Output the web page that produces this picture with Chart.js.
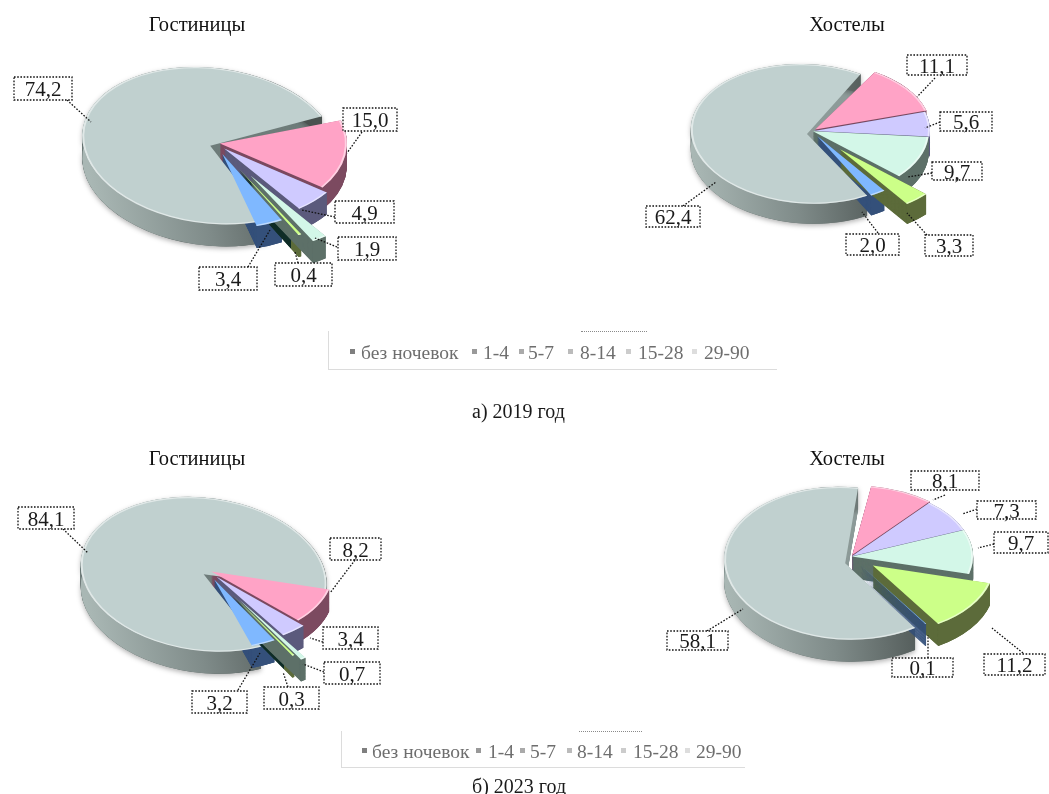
<!DOCTYPE html>
<html lang="ru">
<head>
<meta charset="utf-8">
<script src="https://cdn.jsdelivr.net/npm/chart.js@4"></script>
<style>
html,body{margin:0;padding:0;background:#fff;width:1049px;height:794px;overflow:hidden}
canvas{position:absolute;left:0;top:0;filter:blur(.35px)}
.t{position:absolute;font-family:"Liberation Serif",serif;white-space:nowrap;line-height:1;filter:blur(.3px)}
.cap{font-size:20px;color:#1a1a1a}
.leg{font-size:19.5px;color:#6e6e6e}
.m{position:absolute;width:5px;height:5px}
.fr{position:absolute;box-sizing:border-box;border-left:1.5px solid #dcdcdc;border-bottom:1.5px solid #dcdcdc}
.dot{position:absolute;border-top:1px dotted #8a8a8a;height:0}
</style>
</head>
<body>
<script>
const categories = ["без ночевок","1-4","5-7","8-14","15-28","29-90"];
const hotels2019  = [15.0,4.9,1.9,0.4,3.4,74.2];
const hostels2019 = [11.1,5.6,9.7,3.3,2.0,62.4];
const hotels2023  = [8.2,3.4,0.7,0.3,3.2,84.1];
const hostels2023 = [8.1,7.3,9.7,11.2,0.1,58.1];
const topColors  = ["#ffa3c6","#cfcaff","#d3f7e8","#ccff88","#7fb8ff","#c0d0cf"];
const wallColors = ["#7c4a60","#5b5a7c","#5d7068","#5c6b3a","#34507a",null];
const markerColors = ["#7f7f7f","#999999","#aaaaaa","#bbbbbb","#cccccc","#dddddd"];
const W = 1049, H = 794;
const BACK = 5; // the large slice, drawn first and with its own perspective

const pie3d = {
  id:'pie3d',
  beforeDatasetDraw(chart,args,o){
    const ctx = chart.ctx, arcs = chart.getDatasetMeta(0).data;
    const cx = (chart.chartArea.left+chart.chartArea.right)/2, cy=(chart.chartArea.top+chart.chartArea.bottom)/2;
    const turn = (o.backTurn||0)*Math.PI/180;
    arcs[BACK].startAngle += turn; arcs[BACK].endAngle += turn;
    const view = i => {
      const k = i===BACK ? o.backK : o.k, sh = i===BACK ? o.shear : 0, oy = i===BACK ? o.backDy : 0;
      return {k, sl:sh*k, oy};
    };
    const enter = i => { const v=view(i); ctx.translate(cx,cy+v.oy); ctx.transform(1,0,v.sl,v.k,0,0); ctx.translate(-cx,-cy); };
    const shift = i => { const m=(arcs[i].startAngle+arcs[i].endAngle)/2; return [Math.cos(m)*o.explode[i], Math.sin(m)*o.explode[i]]; };
    const order = arcs.map((a,i)=>i).sort((a,b)=>{
      const y=i=>{const m=(arcs[i].startAngle+arcs[i].endAngle)/2; return i===BACK?-1e6:Math.sin(m)*(arcs[i].outerRadius+o.explode[i]);};
      return y(a)-y(b);
    });
    for(const i of order){
      ctx.save(); enter(i);
      const v=view(i), depth=o.depth/v.k;
      const el=arcs[i]; const [dx,dy]=shift(i);
      const x=el.x+dx, y=el.y+dy, r=el.outerRadius;
      const grad = ctx.createLinearGradient(x-r,0,x+r*0.72,0);
      if(i===BACK){ grad.addColorStop(0,'#a9b7b4'); grad.addColorStop(.5,'#7f8b89'); grad.addColorStop(1,'#4a5250'); }
      else { grad.addColorStop(0,wallColors[i]); grad.addColorStop(1,wallColors[i]); }
      const face=o.faces[i];
      if(Array.isArray(face)){
        const xe=x+Math.cos(el.startAngle)*r, g=ctx.createLinearGradient(xe-face[2],0,xe,0);
        g.addColorStop(0,face[0]); g.addColorStop(.5,face[0]); g.addColorStop(.5,face[1]); g.addColorStop(1,face[1]);
        ctx.fillStyle=g;
      } else ctx.fillStyle=face;
      for(let d=depth;d>0;d-=0.8){
        const xs=x-v.sl*d;
        ctx.beginPath(); ctx.moveTo(xs,y+d); ctx.arc(xs,y+d,r,el.startAngle,el.endAngle); ctx.closePath(); ctx.fill();
      }
      if(i===BACK){ ctx.shadowColor='rgba(0,0,0,.3)'; ctx.shadowBlur=5; ctx.shadowOffsetY=2; }
      ctx.fillStyle = grad;
      ctx.beginPath(); ctx.arc(x,y,r,el.startAngle,el.endAngle);
      ctx.arc(x-v.sl*depth,y+depth,r,el.endAngle,el.startAngle,true); ctx.closePath(); ctx.fill();
      ctx.restore();
    }
    const drawOrder=[BACK,0,1,2,3,4];
    for(const i of drawOrder){
      const [dx,dy]=shift(i), el=arcs[i];
      ctx.save(); enter(i);
      ctx.save(); ctx.translate(dx,dy); el.draw(ctx,chart.chartArea); ctx.restore();
      ctx.strokeStyle='rgba(255,255,255,.5)'; ctx.lineWidth=2;
      ctx.beginPath(); ctx.arc(el.x+dx,el.y+dy,el.outerRadius-1,el.startAngle,el.endAngle); ctx.stroke();
      ctx.restore();
    }
    arcs[BACK].startAngle -= turn; arcs[BACK].endAngle -= turn;
    return false;
  },
  afterDraw(chart,args,o){
    const ctx = chart.ctx, values = chart.data.datasets[0].data;
    ctx.save();
    ctx.fillStyle='#111'; ctx.font='20.5px "Liberation Serif"'; ctx.textAlign='center'; ctx.textBaseline='middle';
    ctx.fillText(o.title,o.titleX,o.titleY);
    ctx.font='21px "Liberation Serif"';
    o.boxes.forEach((b,i)=>{
      ctx.setLineDash([1.6,1.6]); ctx.strokeStyle='#111'; ctx.lineWidth=1.3;
      ctx.beginPath(); ctx.moveTo(b.lx0,b.ly0); ctx.lineTo(b.lx1,b.ly1); ctx.stroke();
      ctx.fillStyle='rgba(255,255,255,.85)'; ctx.fillRect(b.x,b.y,b.w,b.h);
      ctx.strokeRect(b.x,b.y,b.w,b.h);
      ctx.setLineDash([]);
      ctx.fillStyle='#1a1a1a';
      ctx.fillText(values[i].toFixed(1).replace('.',','), b.x+b.w/2, b.y+b.h/2+2);
    });
    ctx.restore();
  }
};

function box(x0,x1,y0,y1,lx0,ly0,lx1,ly1){ return {x:x0,y:y0,w:x1-x0,h:y1-y0,lx0,ly0,lx1,ly1}; }

function makePie(values,cfg){
  const c=document.createElement('canvas'); c.width=W; c.height=H; c.style.width=W+'px'; c.style.height=H+'px';
  document.body.appendChild(c);
  const pad={left:Math.max(0,2*cfg.cx-W),right:Math.max(0,W-2*cfg.cx),top:Math.max(0,2*cfg.cy-H),bottom:Math.max(0,H-2*cfg.cy)};
  new Chart(c,{
    type:'pie',
    data:{labels:categories,datasets:[{data:values,backgroundColor:topColors,borderWidth:0,radius:cfg.r}]},
    options:{responsive:false,animation:false,rotation:cfg.rotation,layout:{padding:pad},
      plugins:{legend:{display:false},tooltip:{enabled:false},pie3d:cfg.p}},
    plugins:[pie3d]
  });
}

const darkFaces=["#7c4a60","#5b5a7c","#5d7068",["#0e2c26","#5c6b3a",20],"#34507a","#6f7d7b"];
const plainFaces=["#7c4a60","#5b5a7c","#5d7068","#5c6b3a","#34507a","#8d9b99"];

makePie(hotels2019,{cx:215,cy:143,r:127,rotation:72,p:{k:.59,backK:.62,backDy:4,backTurn:-4,shear:.2,depth:22,faces:darkFaces,explode:[5,13,66,50,20,5],
  title:'Гостиницы',titleX:197,titleY:26,boxes:[
  box(343,397,108,131,362,132,347,153),box(335,394,201,223,335,217,302,210),box(338,396,237,260,337,247,315,238),
  box(275,332,263,286,298,263,295,252),box(199,257,267,290,248,267,270,230),box(14,72,77,100,67,100,91,122)]}});
makePie(hostels2019,{cx:812,cy:131,r:116,rotation:31,p:{k:.58,backK:.603,backDy:3,backTurn:0,shear:.1,depth:20,faces:plainFaces,explode:[4,2,1,42,10,5],
  title:'Хостелы',titleX:847,titleY:26,boxes:[
  box(907,967,55,75,935,78,917,97),box(940,992,112,131,940,122,925,128),box(932,982,162,180,932,173,907,177),
  box(925,973,235,256,927,235,907,213),box(846,899,234,255,878,233,862,212),box(646,700,206,227,683,206,716,182)]}});
makePie(hotels2023,{cx:207,cy:570,r:122,rotation:105,p:{k:.574,backK:.635,backDy:6,backTurn:-2.5,shear:.2,depth:22,faces:darkFaces,explode:[5,15,60,50,18,4],
  title:'Гостиницы',titleX:197,titleY:460,boxes:[
  box(330,381,538,560,355,560,330,593),box(323,378,627,649,323,642,310,638),box(324,380,662,684,324,672,303,664),
  box(264,319,687,709,288,687,283,672),box(192,247,691,713,238,690,260,653),box(18,74,507,529,63,529,88,553)]}});
makePie(hostels2023,{cx:851,cy:556.5,r:121,rotation:9,p:{k:.574,backK:.632,backDy:6,backTurn:0,shear:.08,depth:22,faces:plainFaces,explode:[3,1,1,27,18,6],
  title:'Хостелы',titleX:847,titleY:460,boxes:[
  box(911,979,471,490,945,495,933,500),box(977,1036,501,519,977,509,962,514),box(994,1048,532,553,994,544,978,548),
  box(984,1045,654,675,1023,653,992,628),box(892,953,658,677,928,658,928,635),box(667,728,631,650,707,631,743,609)]}});

function text(cls,str,x,yc){ const d=document.createElement('div'); d.className='t '+cls; d.textContent=str; d.style.left=x+'px'; d.style.top=(yc-10)+'px'; document.body.appendChild(d); }
function legend(frame,dots,yc,mx,tx){
  const f=document.createElement('div'); f.className='fr'; Object.assign(f.style,{left:frame[0]+'px',top:frame[1]+'px',width:frame[2]+'px',height:frame[3]+'px'}); document.body.appendChild(f);
  const d=document.createElement('div'); d.className='dot'; Object.assign(d.style,{left:dots[0]+'px',top:dots[1]+'px',width:dots[2]+'px'}); document.body.appendChild(d);
  categories.forEach((cat,i)=>{
    const m=document.createElement('div'); m.className='m'; Object.assign(m.style,{left:mx[i]+'px',top:(yc-3)+'px',background:markerColors[i]}); document.body.appendChild(m);
    text('leg',cat,tx[i],yc+1);
  });
}
legend([328,331,449,39],[581,331,66],352,[350,472,519,568,626,692],[361,483,528,580,638,704]);
legend([341,731,404,37],[579,731,63],751,[362,476,520,567,621,685],[372,488,530,577,633,696]);
text('cap','а) 2019 год',472,411);
text('cap','б) 2023 год',472,786);
</script>
</body>
</html>
